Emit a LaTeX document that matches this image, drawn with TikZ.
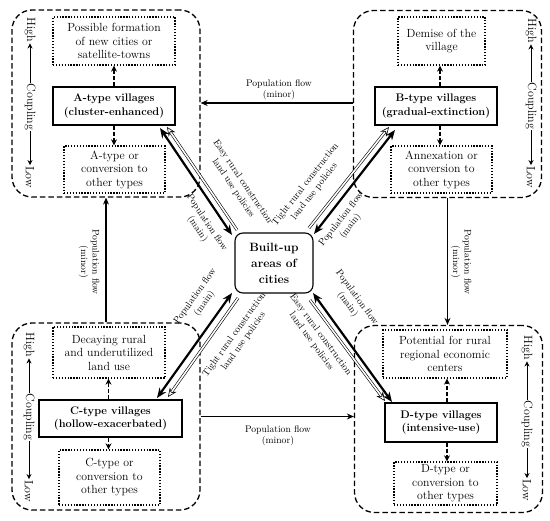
\documentclass[tikz,border=0pt]{standalone}
\usetikzlibrary{arrows.meta,calc}
\begin{document}
\begin{tikzpicture}[x=1pt,y=-1pt,
  grp/.style={draw, line width=1.3pt, dash pattern=on 5.5pt off 3pt, rounded corners=20pt, minimum width=188pt, minimum height=187pt, inner sep=0pt},
  village/.style={draw, line width=1.1pt, align=center, inner sep=0pt, font=\fontsize{11}{13.5}\selectfont\bfseries},
  outcome/.style={draw, line width=1.3pt, dash pattern=on 1.3pt off 1.6pt, align=center, inner sep=0pt, font=\fontsize{11.8}{13.5}\selectfont},
  city/.style={draw, line width=1.1pt, rounded corners=8pt, align=center, inner sep=0pt, minimum width=78pt, minimum height=60pt, font=\fontsize{12}{16}\selectfont\bfseries},
  cpl/.style={rotate=-90, inner sep=1pt, font=\fontsize{12}{13}\selectfont},
  cplarrow/.style={line width=0.8pt, -{Stealth[length=5pt,width=5pt]}},
  dasharrow/.style={line width=1.2pt, dash pattern=on 4pt off 2pt, -{Stealth[length=6pt,width=6pt]}},
  minorflow/.style={line width=1.1pt, -{Stealth[length=7pt,width=6pt]}},
  mainflow/.style={line width=2.2pt, {Stealth[length=10pt,width=8pt]}-{Stealth[length=10pt,width=8pt]}},
  policy/.style={double, double distance=1.6pt, line width=0.6pt, -{Stealth[open,length=9pt,width=8pt]}},
  lbl/.style={align=center, inner sep=0pt, font=\fontsize{9.6}{11.4}\selectfont},
]
\useasboundingbox (0,0) rectangle (550,521);

% groups
\node[grp] (Ag) at (106,103.5) {};
\node[grp] (Bg) at (447.5,104) {};
\node[grp] (Cg) at (106,416.5) {};
\node[grp] (Dg) at (448.5,419) {};

% A
\node[outcome, minimum width=122pt, minimum height=48pt] (At) at (114,41) {Possible formation\\of new cities or\\satellite-towns};
\node[village, minimum width=122pt, minimum height=38pt] (Av) at (114,106) {A-type villages\\(cluster-enhanced)};
\node[outcome, minimum width=101pt, minimum height=47pt] (Ab) at (114.5,169.5) {A-type or\\conversion to\\other types};
% B
\node[outcome, minimum width=87pt, minimum height=48pt] (Bt) at (441.5,41) {Demise of the\\village};
\node[village, minimum width=122pt, minimum height=38pt] (Bv) at (436,106) {B-type villages\\(gradual-extinction)};
\node[outcome, minimum width=101pt, minimum height=47pt] (Bb) at (441.5,169.5) {Annexation or\\conversion to\\other types};
% C
\node[outcome, minimum width=112pt, minimum height=51pt] (Ct) at (109,352.5) {Decaying rural\\and underutilized\\land use};
\node[village, minimum width=143pt, minimum height=37pt] (Cv) at (110.5,418.5) {C-type villages\\(hollow-exacerbated)};
\node[outcome, minimum width=101pt, minimum height=55pt] (Cb) at (109.5,477.5) {C-type or\\conversion to\\other types};
% D
\node[outcome, minimum width=124pt, minimum height=48pt] (Dt) at (445,354) {Potential for rural\\regional economic\\centers};
\node[village, minimum width=112pt, minimum height=39pt] (Dv) at (441,422.5) {D-type villages\\(intensive-use)};
\node[outcome, minimum width=103pt, minimum height=43pt] (Db) at (445.5,483.5) {D-type or\\conversion to\\other types};

% center
\node[city] (city) at (274,263) {Built-up\\areas of\\cities};

% dashed arrows
\draw[dasharrow] (Av.north) -- (Av.north |- At.south);
\draw[dasharrow] (Av.south) -- (Av.south |- Ab.north);
\draw[dasharrow] ([xshift=4pt]Bv.north) -- ([xshift=4pt]Bv.north |- Bt.south);
\draw[dasharrow] ([xshift=4pt]Bv.south) -- ([xshift=4pt]Bv.south |- Bb.north);
\draw[dasharrow] ([xshift=-2pt]Cv.north) -- ([xshift=-2pt]Cv.north |- Ct.south);
\draw[dasharrow] ([xshift=-2pt]Cv.south) -- ([xshift=-2pt]Cv.south |- Cb.north);
\draw[dasharrow] ([xshift=6pt]Dv.north) -- ([xshift=6pt]Dv.north |- Dt.south);
\draw[dasharrow] ([xshift=6pt]Dv.south) -- ([xshift=6pt]Dv.south |- Db.north);

% coupling scales
\foreach \g/\x/\yh/\yc/\yl in {A/30/30/107/177, B/531/31/106/177, C/29/345/417/491, D/527/348/424/490}{
  \node[cpl] (h\g) at (\x,\yh) {High};
  \node[cpl] (c\g) at (\x,\yc) {Coupling};
  \node[cpl] (l\g) at (\x,\yl) {Low};
  \draw[cplarrow] (c\g.west) -- (h\g.east);
  \draw[cplarrow] (c\g.east) -- (l\g.west);
}

% minor flows
\draw[minorflow] ([yshift=1pt]Bg.west) -- ([yshift=1pt]Bg.west -| Ag.east);
\draw[minorflow] (Cg.north) -- (Ag.south);
\draw[minorflow] (Bg.south) -- (Bg.south |- Dg.north);
\draw[minorflow] (Cg.east) -- (Cg.east -| Dg.west);
\node[lbl] (mAB) at (279,90) {Population flow\\(minor)};
\node[lbl, rotate=-90] (mCA) at (89,262) {Population flow\\(minor)};
\node[lbl, rotate=-90] (mBD) at (461,262) {Population flow\\(minor)};
\node[lbl] (mCD) at (278,436) {Population flow\\(minor)};

% main flows
\coordinate (a1) at (160,128); \coordinate (a2) at (232,235);
\coordinate (a3) at (237,230); \coordinate (a4) at (167,127);
\coordinate (b1) at (395,130); \coordinate (b2) at (314,234);
\coordinate (b3) at (309,228); \coordinate (b4) at (389,127);
\coordinate (c1) at (157,398); \coordinate (c2) at (232,293);
\coordinate (c3) at (238,298); \coordinate (c4) at (168,397);
\coordinate (d1) at (392,402); \coordinate (d2) at (313,293);
\coordinate (d3) at (310,300); \coordinate (d4) at (385,401);
\draw[mainflow] (a1) -- (a2);
\draw[policy] (a3) -- (a4);
\draw[mainflow] (b1) -- (b2);
\draw[policy] (b3) -- (b4);
\draw[mainflow] (c1) -- (c2);
\draw[policy] (c3) -- (c4);
\draw[mainflow] (d1) -- (d2);
\draw[policy] (d3) -- (d4);

\node[lbl, rotate=-56] (lA1) at (238,185) {Easy rural construction\\land use policies};
\node[lbl, rotate=-56] (lA2) at (202,226) {Population flow\\(main)};
\node[lbl, rotate=52] (lB1) at (310,188) {Tight rural construction\\land use policies};
\node[lbl, rotate=52] (lB2) at (346,223) {Population flow\\(main)};
\node[lbl, rotate=54.5] (lC1) at (200,300) {Population flow\\(main)};
\node[lbl, rotate=54.5] (lC2) at (239,338) {Tight rural construction\\land use policies};
\node[lbl, rotate=-54] (lD1) at (352,301) {Population flow\\(main)};
\node[lbl, rotate=-54] (lD2) at (316,338) {Easy rural construction\\land use policies};
\end{tikzpicture}
\end{document}
